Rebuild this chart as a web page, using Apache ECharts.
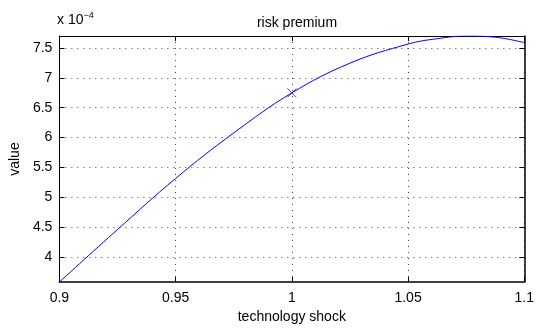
<!DOCTYPE html>
<html>
<head>
<meta charset="utf-8">
<script src="https://cdn.jsdelivr.net/npm/echarts@6/dist/echarts.min.js"></script>
<style>
  html, body { margin: 0; padding: 0; background: #fff; }
  #chart { width: 537px; height: 329px; }
</style>
</head>
<body>
<div id="chart"></div>
<script>
'use strict';

// risk premium vs technology shock, values in units of 1e-4
const shock = [0.9, 0.925, 0.95, 0.975, 1.0, 1.025, 1.05, 1.0625, 1.075, 1.0875, 1.1];
const premium = [3.58, 4.46, 5.315, 6.077, 6.747, 7.245, 7.565, 7.655, 7.70, 7.68, 7.59];
const steadyState = [[1.0, 6.747]];
const yTicks = [4, 4.5, 5, 5.5, 6, 6.5, 7, 7.5];

const FONT = 'Liberation Sans, Arial, Helvetica, sans-serif';
const BLUE = '#0000ff';
const yMin = 3.58;
const yMax = 7.7;

const gridLine = { show: true, lineStyle: { color: '#444', type: [1, 5], width: 1 } };
const boxLine = { show: true, onZero: false, lineStyle: { color: '#000', width: 1 } };

const chart = echarts.init(document.getElementById('chart'), null, { renderer: 'canvas' });

chart.setOption({
  animation: false,
  title: {
    text: 'risk premium',
    left: 292,
    textAlign: 'center',
    top: 11,
    textStyle: { fontFamily: FONT, fontSize: 14, fontWeight: 'normal', color: '#000' }
  },
  grid: { left: 56, right: 10, top: 36, bottom: 38 },
  graphic: [{
    type: 'text',
    left: 57,
    top: 11,
    style: {
      text: 'x 10{sup|−4}',
      fontFamily: FONT,
      fontSize: 14,
      fill: '#000',
      rich: { sup: { fontSize: 9, verticalAlign: 'top', padding: [0, 0, 10, 0] } }
    }
  }],
  xAxis: [{
    type: 'value',
    min: 0.9,
    max: 1.1,
    interval: 0.05,
    name: 'technology shock',
    nameLocation: 'middle',
    nameGap: 27,
    nameTextStyle: { fontFamily: FONT, fontSize: 14, color: '#000' },
    axisLine: { show: true, onZero: false, lineStyle: { color: '#000', width: 1.5 } },
    axisTick: { inside: true, length: 5, lineStyle: { color: '#000' } },
    axisLabel: { fontFamily: FONT, fontSize: 14, color: '#000', margin: 9 },
    splitLine: gridLine
  }, {
    type: 'value',
    position: 'top',
    min: 0.9,
    max: 1.1,
    interval: 0.05,
    axisLine: boxLine,
    axisTick: { inside: true, length: 5, lineStyle: { color: '#000' } },
    axisLabel: { show: false },
    splitLine: { show: false }
  }],
  yAxis: [{
    type: 'value',
    min: yMin,
    max: yMax,
    name: 'value',
    nameLocation: 'middle',
    nameGap: 33,
    nameTextStyle: { fontFamily: FONT, fontSize: 14, color: '#000' },
    axisLine: boxLine,
    axisTick: { inside: true, length: 5, customValues: yTicks, lineStyle: { color: '#000' } },
    axisLabel: { fontFamily: FONT, fontSize: 14, color: '#000', margin: 7, customValues: yTicks },
    splitLine: gridLine
  }, {
    type: 'value',
    position: 'right',
    min: yMin,
    max: yMax,
    axisLine: { show: true, onZero: false, lineStyle: { color: '#000', width: 1.5 } },
    axisTick: { inside: true, length: 5, customValues: yTicks, lineStyle: { color: '#000' } },
    axisLabel: { show: false, customValues: yTicks },
    splitLine: { show: false }
  }],
  series: [{
    type: 'line',
    data: shock.map((x, i) => [x, premium[i]]),
    smooth: 0.4,
    showSymbol: false,
    clip: true,
    lineStyle: { color: BLUE, width: 1 }
  }, {
    type: 'scatter',
    data: steadyState,
    symbol: 'path://M0,0L10,10M10,0L0,10',
    symbolSize: 9,
    itemStyle: { color: 'none', borderColor: BLUE, borderWidth: 1 }
  }]
});
</script>
</body>
</html>
